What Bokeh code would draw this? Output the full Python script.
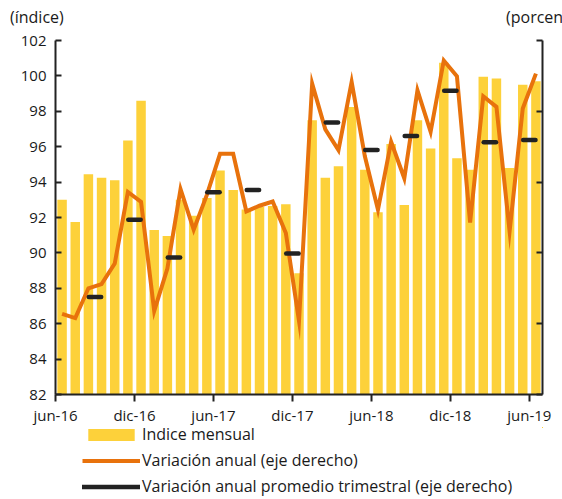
from bokeh.plotting import figure
from bokeh.models import (Range1d, LinearAxis, FixedTicker, Legend, LegendItem,
                          ColumnDataSource, Div)
from bokeh.layouts import column
from bokeh.embed import file_html
from bokeh.resources import INLINE

# ---------------- data ----------------
months = ["jun-16", "jul-16", "ago-16", "sep-16", "oct-16", "nov-16", "dic-16",
          "ene-17", "feb-17", "mar-17", "abr-17", "may-17", "jun-17", "jul-17",
          "ago-17", "sep-17", "oct-17", "nov-17", "dic-17", "ene-18", "feb-18",
          "mar-18", "abr-18", "may-18", "jun-18", "jul-18", "ago-18", "sep-18",
          "oct-18", "nov-18", "dic-18", "ene-19", "feb-19", "mar-19", "abr-19",
          "may-19", "jun-19"]
indice_mensual = [93.0, 91.75, 94.45, 94.25, 94.1, 96.35, 98.6, 91.3, 90.95,
                  93.0, 92.1, 93.1, 94.65, 93.55, 92.45, 92.6, 92.65, 92.75,
                  88.85, 97.5, 94.25, 94.9, 98.25, 94.7, 92.3, 96.15, 92.7,
                  97.5, 95.9, 100.75, 95.35, 94.7, 99.95, 99.85, 94.8, 99.5,
                  99.7]
variacion_anual = [-9.3, -9.6, -7.5, -7.2, -5.75, -0.7, -1.4, -9.1, -6.1, -0.5,
                   -3.36, -0.9, 2.0, 2.0, -2.07, -1.67, -1.37, -3.6, -9.8, 6.95,
                   3.72, 2.26, 7.07, 1.84, -1.95, 2.85, 0.27, 6.48, 3.55, 8.59,
                   7.47, -2.85, 6.06, 5.31, -3.48, 5.2, 7.66]
trimestres = ["sep-16", "dic-16", "mar-17", "jun-17", "sep-17", "dic-17",
              "mar-18", "jun-18", "sep-18", "dic-18", "mar-19", "jun-19"]
variacion_trimestral = [-8.12, -2.66, -5.33, -0.71, -0.55, -5.05, 4.21, 2.26,
                        3.25, 6.46, 2.81, 2.97]
x_tick_labels = ["jun-16", "dic-16", "jun-17", "dic-17", "jun-18", "dic-18",
                 "jun-19"]
left_ticks = [82, 84, 86, 88, 90, 92, 94, 96, 98, 100, 102]
right_ticks = [-15, -10, -5, 0, 5, 10]
left_title = "(índice)"
right_title = "(porcentaje)"
legend_labels = ["Indice mensual", "Variación anual (eje derecho)",
                 "Variación anual promedio trimestral (eje derecho)"]

# ---------------- style ----------------
FONT = "Open Sans"
TXT = "#1a1a1a"
BAR = "#FDD13A"
ORANGE = "#E8720C"
BLACK = "#222222"

W = 562
HEAD_H = 30
MAIN_H = 397
LEG_H = 499 - HEAD_H - MAIN_H

header = Div(
    width=W, height=HEAD_H, margin=0,
    styles={"overflow": "hidden"},
    text=(f'<div style="position:relative;width:{W}px;height:{HEAD_H}px;'
          f'overflow:hidden;font-family:\'{FONT}\';font-size:16px;color:{TXT};'
          f'white-space:nowrap;line-height:20px">'
          f'<span style="position:absolute;left:10px;top:7px">{left_title}</span>'
          f'<span style="position:absolute;left:506px;top:7px">{right_title}</span>'
          f'</div>'))

p = figure(width=W, height=MAIN_H, output_backend="svg", toolbar_location=None,
           x_range=Range1d(0, len(months)), y_range=Range1d(82, 102),
           min_border_left=55, min_border_right=20, min_border_top=10,
           min_border_bottom=32)
p.extra_y_ranges = {"right": Range1d(right_ticks[0], right_ticks[-1])}
p.xgrid.visible = False
p.ygrid.visible = False
p.outline_line_color = None
p.background_fill_color = "white"
p.border_fill_color = "white"

# month positions (slot centres) and quarter positions (slot edges)
xc = [i + 0.5 for i in range(len(months))]
qx = [months.index(q) for q in trimestres]

BAR_STYLE = dict(fill_color=BAR, line_color=None)
LINE_STYLE = dict(line_color=ORANGE, line_width=4, line_join="miter")
SEG_STYLE = dict(line_color=BLACK, line_width=4.5, line_cap="round")

src_m = ColumnDataSource(dict(x=xc, top=indice_mensual, var=variacion_anual))
src_q = ColumnDataSource(dict(x0=[q - 0.47 for q in qx], x1=[q + 0.47 for q in qx],
                              y=variacion_trimestral))

bars = p.vbar(x="x", top="top", bottom=82, width=0.72, source=src_m, **BAR_STYLE)
line = p.line(x="x", y="var", source=src_m, y_range_name="right", **LINE_STYLE)
segs = p.segment(x0="x0", x1="x1", y0="y", y1="y", source=src_q,
                 y_range_name="right", **SEG_STYLE)

# left axis
ya = p.yaxis[0]
ya.ticker = FixedTicker(ticks=left_ticks)
ya.major_tick_in = 6
ya.major_tick_out = 0
ya.minor_tick_line_color = None
ya.axis_line_width = 2
ya.major_tick_line_width = 2
ya.axis_line_color = BLACK
ya.major_tick_line_color = BLACK
ya.major_label_text_font = FONT
ya.major_label_text_font_size = "15px"
ya.major_label_text_color = TXT
ya.major_label_standoff = 9

# bottom axis
xa = p.xaxis[0]
tick_pos = [months.index(t) for t in x_tick_labels]
xa.ticker = FixedTicker(ticks=tick_pos)
xa.major_label_overrides = {t: l for t, l in zip(tick_pos, x_tick_labels)}
xa.major_tick_in = 0
xa.major_tick_out = 7
xa.minor_tick_line_color = None
xa.axis_line_width = 2
xa.major_tick_line_width = 2
xa.axis_line_color = BLACK
xa.major_tick_line_color = BLACK
xa.major_label_text_font = FONT
xa.major_label_text_font_size = "15px"
xa.major_label_text_color = TXT
xa.major_label_standoff = 3

# right axis (its tick labels lie beyond the page edge in the reference)
ra = LinearAxis(y_range_name="right", ticker=FixedTicker(ticks=right_ticks))
ra.major_tick_in = 6
ra.major_tick_out = 0
ra.minor_tick_line_color = None
ra.axis_line_width = 2
ra.major_tick_line_width = 2
ra.axis_line_color = BLACK
ra.major_tick_line_color = BLACK
ra.major_label_overrides = {t: "" for t in right_ticks}
ra.major_label_standoff = 0
p.add_layout(ra, "right")

# legend strip under the chart: same series and styles, viewed through a
# window that holds no data, so only the legend keys are drawn
lg = figure(width=W, height=LEG_H, output_backend="svg", toolbar_location=None,
            x_range=Range1d(-3, -2), y_range=Range1d(0, 1),
            x_axis_location=None, y_axis_location=None, min_border=0)
lg.xgrid.visible = False
lg.ygrid.visible = False
lg.outline_line_color = None
lg.border_fill_color = "white"
r_bar = lg.vbar(x="x", top="top", bottom=82, width=0.72, source=src_m, **BAR_STYLE)
r_line = lg.line(x="x", y="var", source=src_m, **LINE_STYLE)
r_seg = lg.segment(x0="x0", x1="x1", y0="y", y1="y", source=src_q, **SEG_STYLE)
legend = Legend(items=[LegendItem(label=legend_labels[0], renderers=[r_bar]),
                       LegendItem(label=legend_labels[1], renderers=[r_line]),
                       LegendItem(label=legend_labels[2], renderers=[r_seg])],
                location=(27, 2), orientation="vertical",
                glyph_width=58, glyph_height=15, label_height=20, spacing=4,
                padding=0, margin=0, border_line_color=None,
                background_fill_alpha=0, label_standoff=2,
                label_text_font=FONT, label_text_font_size="16px",
                label_text_color=TXT)
lg.add_layout(legend)

layout = column(header, p, lg, spacing=0, margin=0)
open("out.html", "w").write(file_html(layout, INLINE))
